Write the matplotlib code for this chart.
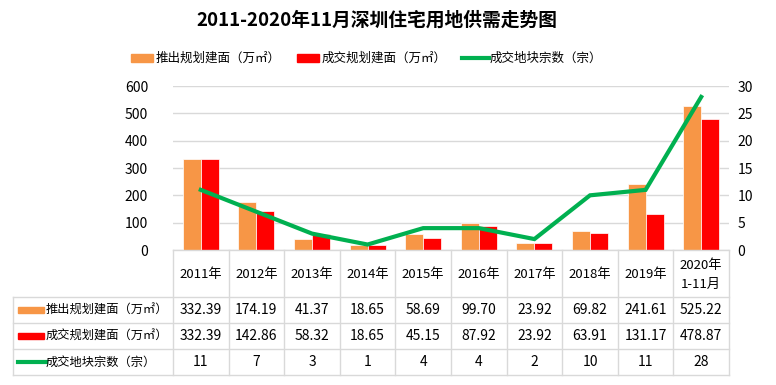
import matplotlib
matplotlib.use("Agg")
import matplotlib.pyplot as plt
from matplotlib.lines import Line2D
from matplotlib.patches import Rectangle

plt.rcParams['font.family'] = ['Noto Sans CJK SC', 'DejaVu Sans']

years = ["2011年", "2012年", "2013年", "2014年", "2015年", "2016年", "2017年", "2018年", "2019年", "2020年\n1-11月"]
supply = [332.39, 174.19, 41.37, 18.65, 58.69, 99.70, 23.92, 69.82, 241.61, 525.22]
deal = [332.39, 142.86, 58.32, 18.65, 45.15, 87.92, 23.92, 63.91, 131.17, 478.87]
count = [11, 7, 3, 1, 4, 4, 2, 10, 11, 28]
supply_lbl = ["332.39", "174.19", "41.37", "18.65", "58.69", "99.70", "23.92", "69.82", "241.61", "525.22"]
deal_lbl = ["332.39", "142.86", "58.32", "18.65", "45.15", "87.92", "23.92", "63.91", "131.17", "478.87"]

names = ["推出规划建面（万㎡）", "成交规划建面（万㎡）", "成交地块宗数（宗）"]
c_orange = "#F79646"
c_red = "#FF0000"
c_green = "#00B050"
c_grid = "#D9D9D9"

W, H = 776, 385
fig = plt.figure(figsize=(W / 100, H / 100), dpi=100)

def fx(p):
    return p / W

def fy(p):
    return 1 - p / H

left, right, top, bot = 173, 729, 86, 250
ax = fig.add_axes([fx(left), fy(bot), fx(right - left), (bot - top) / H])
ax2 = ax.twinx()

n = len(years)
xs = list(range(n))
bw = 0.325
ax.bar([x - bw / 2 for x in xs], supply, width=bw, color=c_orange, edgecolor="white", linewidth=0.5, zorder=3)
ax.bar([x + bw / 2 for x in xs], deal, width=bw, color=c_red, edgecolor="white", linewidth=0.5, zorder=3)
ax2.plot(xs, count, color=c_green, linewidth=3, solid_joinstyle="miter", zorder=4)

ax.set_xlim(-0.5, n - 0.5)
ax.set_ylim(0, 600)
ax.set_yticks(range(0, 601, 100))
ax2.set_ylim(0, 30)
ax2.set_yticks(range(0, 31, 5))
ax.set_xticks([])
ax.yaxis.grid(True, color=c_grid, linewidth=1)
ax.set_axisbelow(True)
for a in (ax, ax2):
    for s in a.spines.values():
        s.set_visible(False)
    a.tick_params(axis="y", length=0, labelsize=10, colors="#000000")
ax.tick_params(axis="y", pad=18)
ax2.tick_params(axis="y", pad=6)

# title
fig.text(fx(377), fy(20), "2011-2020年11月深圳住宅用地供需走势图", ha="center", va="center",
         fontsize=13.5, fontweight="bold")

# legend
leg_y = fy(58)
def swatch(x0, color, kind):
    if kind == "bar":
        fig.add_artist(Rectangle((fx(x0), leg_y - 4 / H), fx(22), 8 / H, color=color, transform=fig.transFigure))
    else:
        fig.add_artist(Line2D([fx(x0), fx(x0 + 27)], [leg_y, leg_y], color=color, linewidth=3, transform=fig.transFigure))

swatch(131, c_orange, "bar")
fig.text(fx(156), leg_y, names[0], ha="left", va="center", fontsize=9)
swatch(297, c_red, "bar")
fig.text(fx(322), leg_y, names[1], ha="left", va="center", fontsize=9)
swatch(462, c_green, "line")
fig.text(fx(490), leg_y, names[2], ha="left", va="center", fontsize=9)

# data table
tax = fig.add_axes([fx(left), fy(375), fx(right - left), (375 - bot) / H])
tax.set_xlim(-0.5, n - 0.5)
tax.set_ylim(125, 0)
tax.axis("off")
rows = [0, 47, 73, 99, 125]
unit = (right - left) / n
lab_left = -0.5 - (left - 13) / unit
kw = dict(color=c_grid, linewidth=1, clip_on=False)
for i in range(n + 1):
    tax.plot([i - 0.5, i - 0.5], [0, 125], **kw)
tax.plot([lab_left, lab_left], [rows[1], 125], **kw)
for r in rows[1:]:
    tax.plot([lab_left, n - 0.5], [r, r], **kw)
tax.plot([-0.5, n - 0.5], [0, 0], **kw)

for i, y in enumerate(years):
    tax.text(i, rows[0] + (rows[1] - rows[0]) / 2 + 1, y, ha="center", va="center", fontsize=9.5, linespacing=1.6)
for vals, r0 in ((supply_lbl, 1), (deal_lbl, 2), ([str(c) for c in count], 3)):
    yc = (rows[r0] + rows[r0 + 1]) / 2
    for i, v in enumerate(vals):
        tax.text(i, yc, v, ha="center", va="center", fontsize=10)

for k, (nm, col) in enumerate(zip(names, [c_orange, c_red, c_green])):
    yc = (rows[k + 1] + rows[k + 2]) / 2
    sx0 = lab_left + 5 / unit
    sx1 = lab_left + 31 / unit
    if k < 2:
        tax.add_patch(Rectangle((sx0, yc - 3), sx1 - sx0, 6, color=col, clip_on=False))
    else:
        tax.plot([sx0, sx1 + 1.5 / unit], [yc, yc], color=col, linewidth=3, clip_on=False)
    tax.text(lab_left + 33 / unit, yc, nm, ha="left", va="center", fontsize=8.8, clip_on=False)

fig.savefig("out.png", dpi=100)
